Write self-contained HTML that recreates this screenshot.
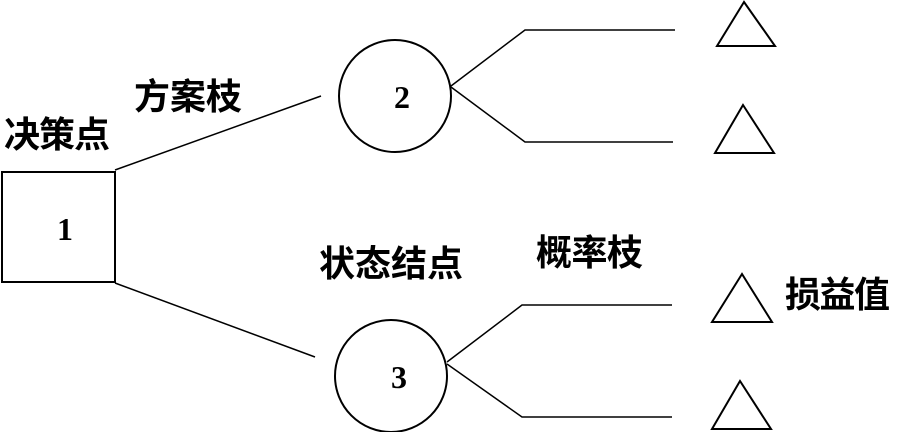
<!DOCTYPE html>
<html><head><meta charset="utf-8"><style>
html,body{margin:0;padding:0;background:#fff;}
svg{display:block}
.cjk{font-family:"Liberation Sans","Noto Sans CJK SC","WenQuanYi Zen Hei",sans-serif;font-weight:bold;font-size:36px;fill:#000}
.num{font-family:"Liberation Serif",serif;font-weight:bold;font-size:32px;fill:#000}
</style></head><body>
<svg width="897" height="432" viewBox="0 0 897 432" xmlns="http://www.w3.org/2000/svg">
<g fill="none" stroke="#000">
<rect x="2" y="172" width="113" height="110" stroke-width="2"/>
<line x1="115" y1="170" x2="321" y2="96" stroke-width="1.5"/>
<line x1="115" y1="283" x2="315" y2="357" stroke-width="1.5"/>
<circle cx="395" cy="96" r="56" stroke-width="2"/>
<circle cx="391" cy="376" r="56" stroke-width="2"/>
<polyline points="451,86 525,30 675,30" stroke-width="1.5"/>
<polyline points="451,87 525,142 673,142" stroke-width="1.5"/>
<polyline points="447,362 522,305 672,305" stroke-width="1.5"/>
<polyline points="447,364 522,417 672,417" stroke-width="1.5"/>
<polygon points="744,2 717,46 775,46" stroke-width="2"/>
<polygon points="743,105 715,153 774,153" stroke-width="2"/>
<polygon points="742,274 712,322 772,322" stroke-width="2"/>
<polygon points="740,381 712,429 771,429" stroke-width="2"/>
</g>
<text class="cjk" x="4" y="147" textLength="106">决策点</text>
<text class="cjk" x="134" y="109" textLength="108">方案枝</text>
<text class="cjk" x="319" y="276" textLength="144">状态结点</text>
<text class="cjk" x="536" y="265" textLength="107">概率枝</text>
<text class="cjk" x="785" y="307" textLength="105">损益值</text>
<text class="num" x="65" y="240" text-anchor="middle">1</text>
<text class="num" x="402" y="108" text-anchor="middle">2</text>
<text class="num" x="399" y="388" text-anchor="middle">3</text>
</svg>
</body></html>
